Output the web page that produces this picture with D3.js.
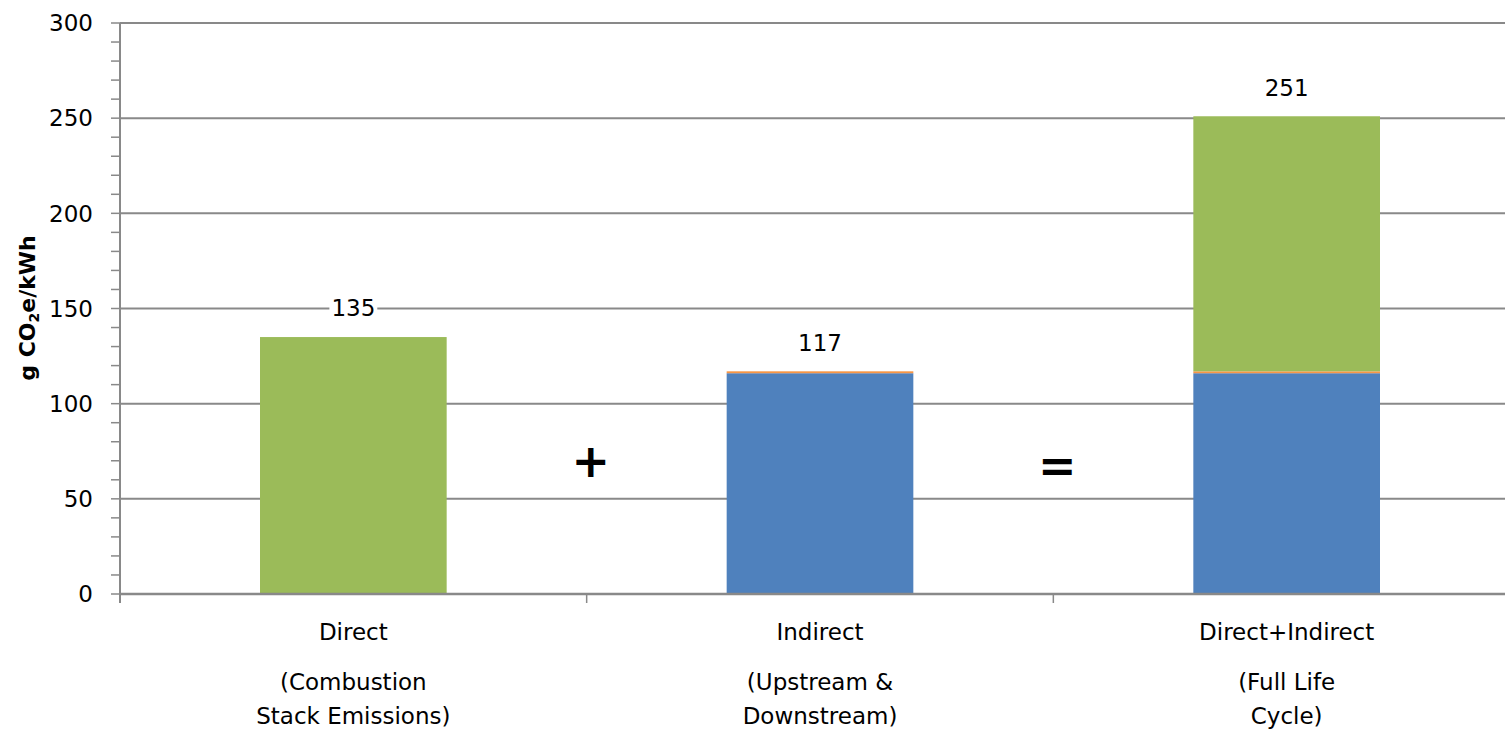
<!DOCTYPE html>
<html>
<head>
<meta charset="utf-8">
<script src="https://cdn.jsdelivr.net/npm/d3@7"></script>
<style>
  html, body { margin: 0; padding: 0; background: #fff; }
  svg { display: block; }
  text { font-family: "DejaVu Sans", sans-serif; fill: #000; }
</style>
</head>
<body>
<svg id="chart" width="1505" height="731"></svg>
<script>
// Categories and their multi-line labels
const categories = ["Direct", "Indirect", "Direct+Indirect"];
const categoryLines = [
  ["Direct", "(Combustion", "Stack Emissions)"],
  ["Indirect", "(Upstream &", "Downstream)"],
  ["Direct+Indirect", "(Full Life", "Cycle)"]
];

// Stacked series (g CO2e/kWh)
const upstream   = [0, 116, 116];   // blue
const downstream = [0, 1, 1];       // orange
const combustion = [135, 0, 134];   // green

const seriesNames = ["upstream", "downstream", "combustion"];
const seriesColors = ["#4F81BD", "#F79646", "#9BBB59"];

const yTicks = [0, 50, 100, 150, 200, 250, 300];
const yMinorTicks = d3.range(0, 301, 10);
const operators = ["+", "="];

const svg = d3.select("#chart");
const plotLeft = 120, plotRight = 1520, plotTop = 23, plotBottom = 594;
const gridColor = "#898989";

const rows = categories.map((c, i) => ({
  category: c,
  upstream: upstream[i],
  downstream: downstream[i],
  combustion: combustion[i]
}));

const x = d3.scaleBand().domain(categories).range([plotLeft, plotRight])
  .paddingInner(0.6).paddingOuter(0.3);
const y = d3.scaleLinear().domain([0, 300]).range([plotBottom, plotTop]);
const step = x.step();

// Horizontal gridlines
svg.append("g").selectAll("line").data(yTicks.filter(d => d > 0)).join("line")
  .attr("x1", plotLeft).attr("x2", 1505)
  .attr("y1", d => y(d)).attr("y2", d => y(d))
  .attr("stroke", gridColor).attr("stroke-width", 2);

// Stacked bars
const stack = d3.stack().keys(seriesNames)(rows);
svg.append("g").selectAll("g").data(stack).join("g")
  .attr("fill", (d, i) => seriesColors[i])
  .selectAll("rect").data(d => d.filter(p => p[1] - p[0] > 0)).join("rect")
  .attr("x", d => x(d.data.category))
  .attr("width", x.bandwidth())
  .attr("y", d => y(d[1]))
  .attr("height", d => y(d[0]) - y(d[1]));

// Y axis with minor ticks
const yAxis = svg.append("g");
yAxis.append("line")
  .attr("x1", plotLeft).attr("x2", plotLeft).attr("y1", plotTop).attr("y2", plotBottom + 9)
  .attr("stroke", gridColor).attr("stroke-width", 2);
yAxis.selectAll("line.tick").data(yMinorTicks).join("line")
  .attr("class", "tick")
  .attr("x1", plotLeft - 9).attr("x2", plotLeft)
  .attr("y1", d => y(d)).attr("y2", d => y(d))
  .attr("stroke", gridColor).attr("stroke-width", 1.5);
yAxis.selectAll("text").data(yTicks).join("text")
  .attr("x", 93).attr("y", d => y(d))
  .attr("dy", "0.36em")
  .attr("text-anchor", "end")
  .attr("font-size", 23)
  .text(d => d);

// X axis line and boundary ticks
svg.append("line")
  .attr("x1", plotLeft).attr("x2", 1505).attr("y1", plotBottom).attr("y2", plotBottom)
  .attr("stroke", gridColor).attr("stroke-width", 2.5);
svg.append("g").selectAll("line").data(d3.range(categories.length)).join("line")
  .attr("x1", i => plotLeft + i * step).attr("x2", i => plotLeft + i * step)
  .attr("y1", plotBottom).attr("y2", plotBottom + 9)
  .attr("stroke", gridColor).attr("stroke-width", 1.5);

// Category labels
const lineY = [632, 682, 716];
const catG = svg.append("g").selectAll("text").data(categoryLines).join("text")
  .attr("text-anchor", "middle")
  .attr("font-size", 23);
catG.selectAll("tspan").data((d, i) => d.map(t => ({ t, c: categories[i] }))).join("tspan")
  .attr("x", d => x(d.c) + x.bandwidth() / 2)
  .attr("y", (d, j) => lineY[j])
  .attr("dy", "0.36em")
  .text(d => d.t);

// Total labels with white backing
const totals = rows.map(r => ({ category: r.category, total: r.upstream + r.downstream + r.combustion }));
const lab = svg.append("g").selectAll("g").data(totals).join("g");
lab.append("text")
  .attr("x", d => x(d.category) + x.bandwidth() / 2)
  .attr("y", d => y(d.total) - 29)
  .attr("dy", "0.36em")
  .attr("text-anchor", "middle")
  .attr("font-size", 23)
  .text(d => d3.format(".0f")(d.total));
lab.each(function() {
  const g = d3.select(this);
  const b = g.select("text").node().getBBox();
  g.insert("rect", "text")
    .attr("x", b.x - 2).attr("y", b.y + 3)
    .attr("width", b.width + 4).attr("height", b.height - 6)
    .attr("fill", "#fff");
});

// Operators between bars
svg.append("g").selectAll("text").data(operators).join("text")
  .attr("x", (d, i) => plotLeft + (i + 1) * step + 4)
  .attr("y", (d, i) => i === 0 ? 460 : 465)
  .attr("dy", "0.36em")
  .attr("text-anchor", "middle")
  .attr("font-size", 46).attr("font-weight", "bold")
  .text(d => d);

// Y axis title
svg.append("text")
  .attr("transform", "translate(27,308) rotate(-90)")
  .attr("dy", "0.36em")
  .attr("text-anchor", "middle")
  .attr("font-size", 22).attr("font-weight", "bold")
  .html('g CO<tspan font-size="14" dy="4">2</tspan><tspan dy="-4">e/kWh</tspan>');
</script>
</body>
</html>
